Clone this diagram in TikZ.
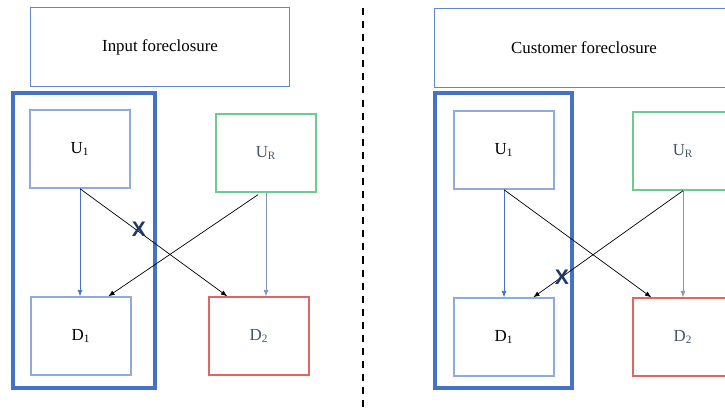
\documentclass[tikz,border=0pt]{standalone}
\usepackage{fontspec}
\setmainfont{Liberation Serif}
\newfontfamily\xfont{Liberation Sans}
\usepackage{tikz}
\usetikzlibrary{arrows.meta,calc}

\definecolor{frameblue}{HTML}{4472C4}
\definecolor{boxblue}{HTML}{8FAADC}
\definecolor{boxgreen}{HTML}{6CCB8F}
\definecolor{boxred}{HTML}{E06666}
\definecolor{textgray}{HTML}{44546A}
\definecolor{arrowgray}{HTML}{8497B0}
\definecolor{xnavy}{HTML}{1F3864}

\begin{document}
\begin{tikzpicture}[x=0.025cm,y=-0.025cm]
        \tikzstyle{every node}+=[font=\fontsize{12}{14}\selectfont]
        \tikzstyle{title}=[draw=frameblue!85, line width=0.7pt, minimum width=6.45cm, minimum height=1.95cm]
        \tikzstyle{firm}=[line width=1pt, minimum width=2.5cm, minimum height=1.95cm]
        \tikzstyle{frame}=[draw=frameblue, line width=2.2pt]
        \tikzstyle{link}=[line width=0.5pt, -{Latex[length=4.5pt,width=3.5pt]}]
        \tikzstyle{cut}=[text=xnavy, font=\xfont\bfseries\fontsize{15}{15}\selectfont, inner sep=0pt]
        \clip (0,0) rectangle (725,408);
        \draw [black, line width=1.4pt, dash pattern=on 5pt off 4.3pt] (363,8) -- (363,408);
        \node [title] (titleL) at (160,47) {Input foreclosure};
        \draw [frame] (13,93) rectangle (155,388);
        \node [firm, draw=boxblue] (U1L) at (80,149) {U\textsubscript{1}};
        \node [firm, draw=boxgreen, text=textgray] (URL) at (266,153) {U\textsubscript{R}};
        \node [firm, draw=boxblue] (D1L) at (81,336) {D\textsubscript{1}};
        \node [firm, draw=boxred, text=textgray] (D2L) at (259,336) {D\textsubscript{2}};
        \draw [link, frameblue] (U1L.south) -- (U1L.south |- D1L.north);
        \draw [link, black] (U1L.south) -- ($(D2L.north west)+(19,0)$);
        \draw [link, black] ($(URL.south)+(-8,2)$) -- ($(D1L.north west)+(78,0)$);
        \draw [link, arrowgray] (URL.south) -- (URL.south |- D2L.north);
        \node [cut] (xL) at (139,229) {X};
        \node [title, minimum width=7.45cm] (titleR) at (584,48) {Customer foreclosure};
        \draw [frame] (435,93) rectangle (572,388);
        \node [firm, draw=boxblue] (U1R) at (504,150) {U\textsubscript{1}};
        \node [firm, draw=boxgreen, text=textgray] (URR) at (683,151) {U\textsubscript{R}};
        \node [firm, draw=boxblue] (D1R) at (504,337) {D\textsubscript{1}};
        \node [firm, draw=boxred, text=textgray] (D2R) at (683,337) {D\textsubscript{2}};
        \draw [link, frameblue] (U1R.south) -- (U1R.south |- D1R.north);
        \draw [link, black] (U1R.south) -- ($(D2R.north west)+(19,0)$);
        \draw [link, black] (URR.south) -- ($(D1R.north west)+(80,0)$);
        \draw [link, arrowgray] (URR.south) -- (URR.south |- D2R.north);
        \node [cut] (xR) at (562,277) {X};
    \end{tikzpicture}
\end{document}
